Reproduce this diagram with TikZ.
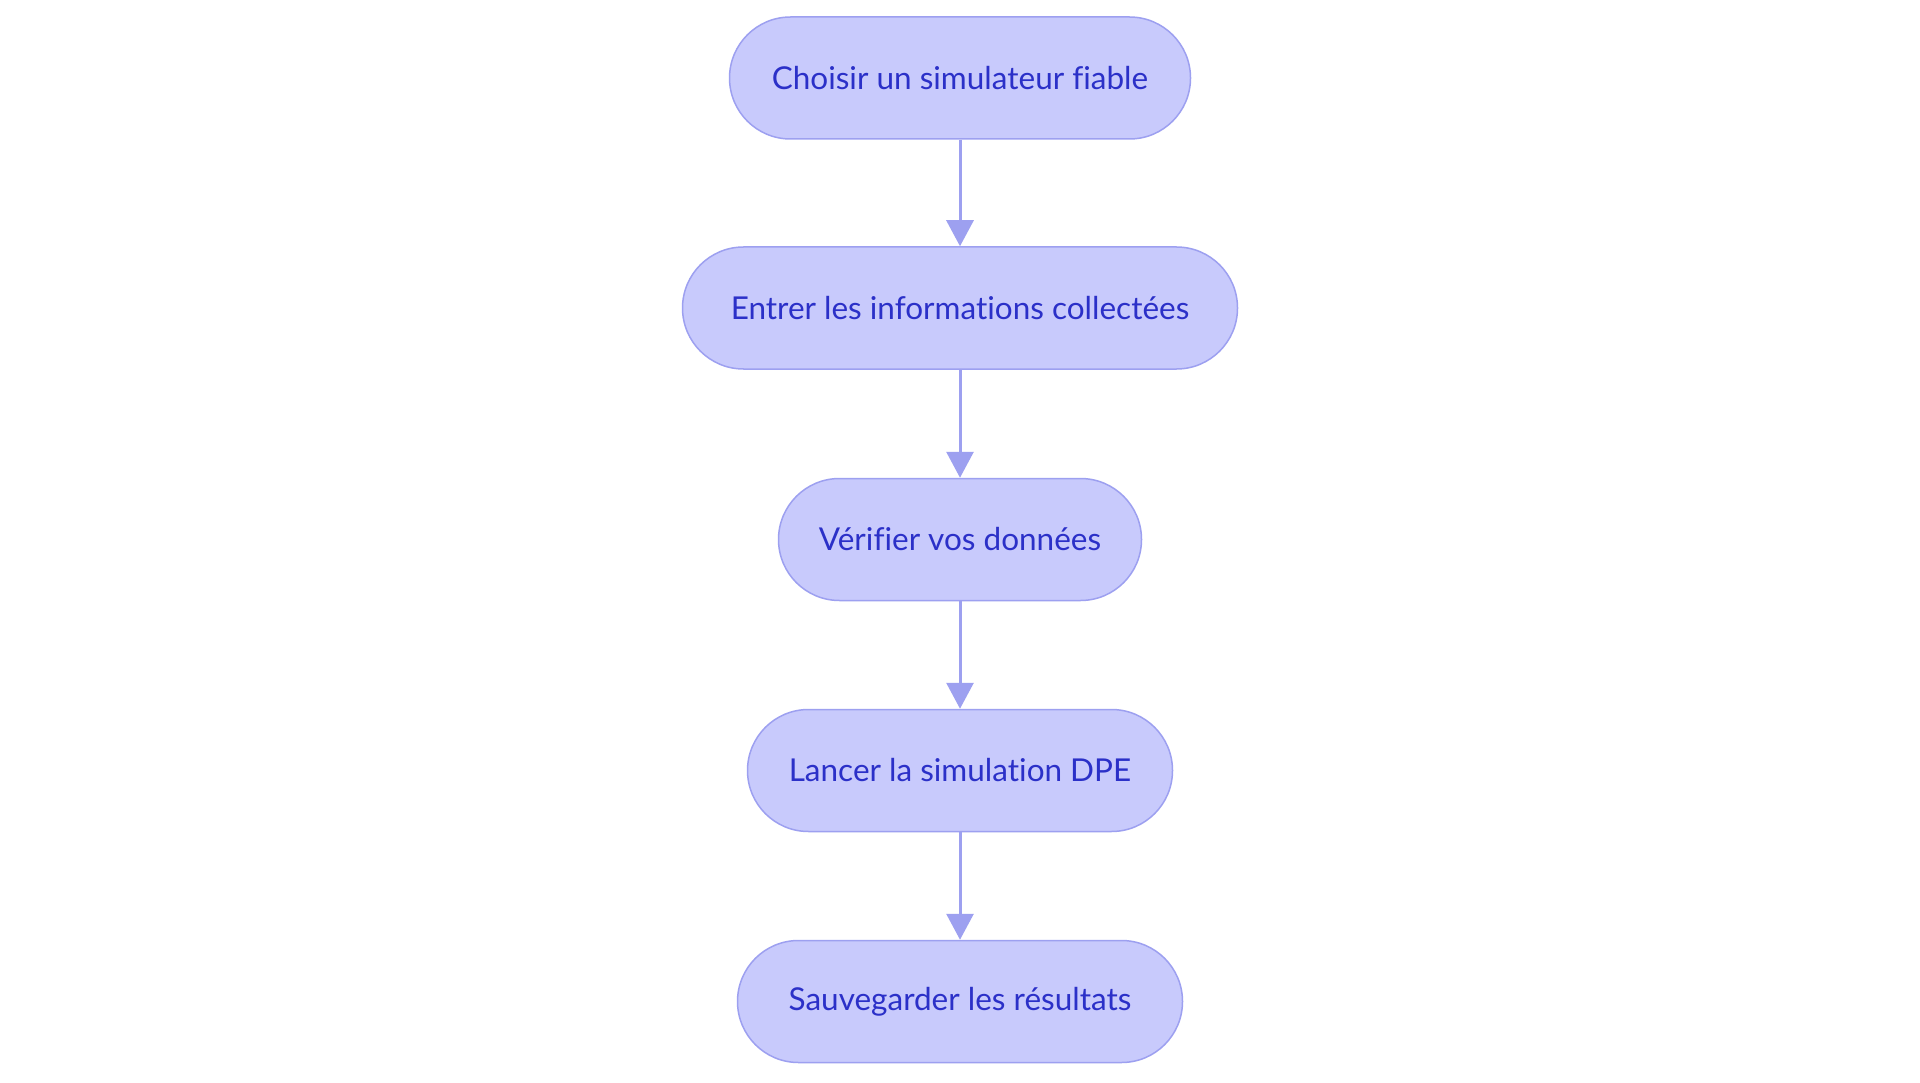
\documentclass[tikz,border=0pt]{standalone}
\usepackage{fontspec}
\setmainfont[Ligatures=NoCommon]{Lato}
\usetikzlibrary{arrows.meta}
\definecolor{nodefill}{HTML}{C8CAFC}
\definecolor{nodedraw}{HTML}{9DA0F0}
\definecolor{textblue}{HTML}{2B30C8}
\definecolor{arrowcol}{HTML}{9DA0F0}
\begin{document}
\begin{tikzpicture}[x=1pt,y=-1pt,
  stepbox/.style={draw=nodedraw, line width=1.5pt, fill=nodefill, rounded corners=61pt,
    minimum height=122pt, inner sep=0pt, text=textblue, font=\fontsize{31.5}{36}\selectfont},
  flow/.style={draw=arrowcol, line width=3pt, -{Triangle[length=26pt,width=27pt]}}]
\useasboundingbox (0,0) rectangle (1920,1083);
\fill[white] (0,0) rectangle (1920,1083);
\node[stepbox, minimum width=461pt] (n1) at (960,78) {Choisir un simulateur fiable};
\node[stepbox, minimum width=555pt] (n2) at (960,308) {Entrer les informations collectées};
\node[stepbox, minimum width=363pt] (n3) at (960,539.5) {Vérifier vos données};
\node[stepbox, minimum width=425pt] (n4) at (960,770.5) {Lancer la simulation DPE};
\node[stepbox, minimum width=445pt] (n5) at (960,1001.5) {Sauvegarder les résultats};
\draw[flow] (n1) -- (n2);
\draw[flow] (n2) -- (n3);
\draw[flow] (n3) -- (n4);
\draw[flow] (n4) -- (n5);
\end{tikzpicture}
\end{document}
